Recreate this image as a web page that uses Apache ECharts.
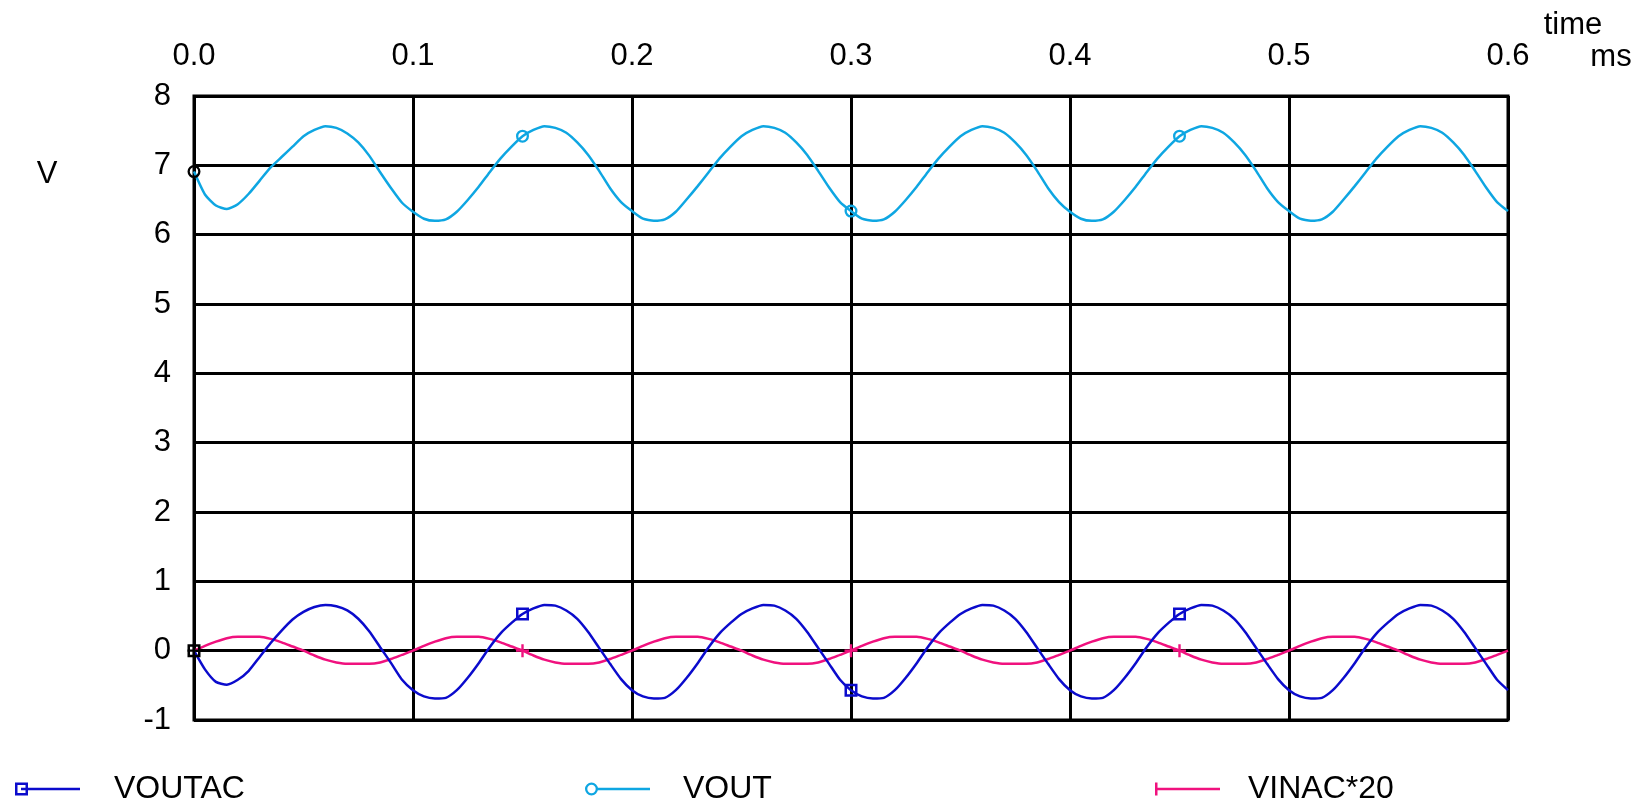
<!DOCTYPE html>
<html><head><meta charset="utf-8">
<script src="https://cdn.jsdelivr.net/npm/echarts@6/dist/echarts.min.js"></script>
<style>html,body{margin:0;padding:0;background:#fff}#c{width:1646px;height:805px}</style>
</head><body><div id="c"></div>
<script>
// sample times (ms)
const timeMs = [
0,0.005,0.01,0.015,0.02,0.025,0.03,0.035,0.04,0.045,0.05,0.055,0.06,0.065,0.07,0.075,0.08,0.085,0.09,0.095,
0.1,0.105,0.11,0.115,0.12,0.125,0.13,0.135,0.14,0.145,0.15,0.155,0.16,0.165,0.17,0.175,0.18,0.185,0.19,0.195,
0.2,0.205,0.21,0.215,0.22,0.225,0.23,0.235,0.24,0.245,0.25,0.255,0.26,0.265,0.27,0.275,0.28,0.285,0.29,0.295,
0.3,0.305,0.31,0.315,0.32,0.325,0.33,0.335,0.34,0.345,0.35,0.355,0.36,0.365,0.37,0.375,0.38,0.385,0.39,0.395,
0.4,0.405,0.41,0.415,0.42,0.425,0.43,0.435,0.44,0.445,0.45,0.455,0.46,0.465,0.47,0.475,0.48,0.485,0.49,0.495,
0.5,0.505,0.51,0.515,0.52,0.525,0.53,0.535,0.54,0.545,0.55,0.555,0.56,0.565,0.57,0.575,0.58,0.585,0.59,0.595,
0.6];

const voutac = [
0.00,-0.27,-0.45,-0.49,-0.42,-0.29,-0.09,0.11,0.29,0.45,0.56,0.63,0.66,0.64,0.58,0.46,0.28,0.05,-0.18,-0.42,
-0.57,-0.66,-0.69,-0.68,-0.57,-0.39,-0.18,0.05,0.25,0.40,0.53,0.61,0.66,0.65,0.58,0.46,0.27,0.04,-0.19,-0.41,
-0.57,-0.66,-0.69,-0.68,-0.57,-0.39,-0.18,0.05,0.25,0.40,0.53,0.61,0.66,0.65,0.58,0.46,0.27,0.04,-0.19,-0.42,
-0.57,-0.66,-0.69,-0.68,-0.57,-0.39,-0.18,0.05,0.25,0.40,0.53,0.61,0.66,0.65,0.58,0.46,0.27,0.04,-0.19,-0.41,
-0.57,-0.66,-0.69,-0.68,-0.57,-0.39,-0.18,0.05,0.25,0.40,0.53,0.61,0.66,0.65,0.58,0.46,0.27,0.04,-0.19,-0.41,
-0.57,-0.66,-0.69,-0.68,-0.57,-0.39,-0.18,0.05,0.25,0.40,0.53,0.61,0.66,0.65,0.58,0.46,0.27,0.04,-0.19,-0.42,
-0.57];

const vout = [
6.91,6.58,6.42,6.37,6.44,6.59,6.78,6.97,7.12,7.27,7.42,7.51,7.565,7.54,7.46,7.33,7.14,6.90,6.67,6.46,
6.33,6.23,6.20,6.22,6.33,6.50,6.69,6.90,7.10,7.27,7.42,7.51,7.565,7.54,7.47,7.33,7.15,6.92,6.67,6.47,
6.34,6.23,6.20,6.22,6.33,6.51,6.70,6.90,7.10,7.27,7.42,7.51,7.565,7.54,7.47,7.33,7.15,6.92,6.68,6.47,
6.34,6.23,6.20,6.22,6.33,6.50,6.69,6.90,7.10,7.27,7.42,7.51,7.565,7.54,7.47,7.33,7.15,6.92,6.67,6.47,
6.33,6.23,6.20,6.22,6.33,6.50,6.69,6.90,7.10,7.27,7.42,7.51,7.565,7.54,7.47,7.33,7.15,6.92,6.67,6.47,
6.34,6.23,6.20,6.22,6.33,6.51,6.70,6.90,7.10,7.27,7.42,7.51,7.565,7.54,7.47,7.33,7.15,6.92,6.68,6.47,
6.34];

const vinac20 = [
0.00,0.07,0.13,0.18,0.20,0.20,0.20,0.17,0.12,0.06,0.00,-0.07,-0.13,-0.17,-0.19,-0.19,-0.19,-0.17,-0.12,-0.06,
0.00,0.07,0.13,0.18,0.20,0.20,0.20,0.17,0.12,0.06,0.00,-0.07,-0.13,-0.17,-0.19,-0.19,-0.19,-0.17,-0.12,-0.06,
0.00,0.07,0.13,0.18,0.20,0.20,0.20,0.17,0.12,0.06,0.00,-0.07,-0.13,-0.17,-0.19,-0.19,-0.19,-0.17,-0.12,-0.06,
0.00,0.07,0.13,0.18,0.20,0.20,0.20,0.17,0.12,0.06,0.00,-0.07,-0.13,-0.17,-0.19,-0.19,-0.19,-0.17,-0.12,-0.06,
0.00,0.07,0.13,0.18,0.20,0.20,0.20,0.17,0.12,0.06,0.00,-0.07,-0.13,-0.17,-0.19,-0.19,-0.19,-0.17,-0.12,-0.06,
0.00,0.07,0.13,0.18,0.20,0.20,0.20,0.17,0.12,0.06,0.00,-0.07,-0.13,-0.17,-0.19,-0.19,-0.19,-0.17,-0.12,-0.06,
0.00];

const seriesNames = ['VOUTAC', 'VOUT', 'VINAC*20'];
const markerIdx = [0, 30, 60, 90];

const FONT = "'Liberation Sans', Arial, Helvetica, sans-serif";
const C_VOUTAC = '#0B0BCC', C_VOUT = '#0EA6E2', C_VINAC = '#F0117E';

const SYM_SQUARE = 'path://M0,0H13V13H0Z M2.5,2.5V10.5H10.5V2.5Z';
const SYM_CIRCLE = 'path://M6.5,0A6.5,6.5,0,1,1,6.5,13A6.5,6.5,0,1,1,6.5,0Z M6.5,2.3A4.2,4.2,0,1,0,6.5,10.7A4.2,4.2,0,1,0,6.5,2.3Z';
const SYM_PLUS = 'path://M5.3,0H7.7V13H5.3Z M0,5.3H13V7.7H0Z';

const ICON_SQUARE = 'path://M0,0H13V13H0Z M2.5,2.5V10.5H10.5V2.5Z M6,5.3H65V7.8H6Z';
const ICON_CIRCLE = 'path://M6.5,0A6.5,6.5,0,1,1,6.5,13A6.5,6.5,0,1,1,6.5,0Z M6.5,2.3A4.2,4.2,0,1,0,6.5,10.7A4.2,4.2,0,1,0,6.5,2.3Z M12,5.3H65V7.8H12Z';
const ICON_PLUS = 'path://M0,0H2.5V13H0Z M0,5.3H65V7.8H0Z';

function build(vals, sym, color) {
  return timeMs.map((t, i) => {
    const p = [t, vals[i]];
    if (markerIdx.indexOf(i) >= 0) {
      return { value: p, symbol: sym, symbolSize: 13, itemStyle: { color: i === 0 ? '#000' : color } };
    }
    return p;
  });
}

function lineSeries(name, vals, sym, color) {
  return {
    name: name, type: 'line', data: build(vals, sym, color),
    symbol: 'none', showSymbol: true, symbolKeepAspect: true,
    lineStyle: { color: color, width: 2.5 },
    itemStyle: { color: color },
    smooth: 0.2, animation: false, z: 3
  };
}

function legendFor(name, icon, left, padLeft) {
  return {
    data: [name], left: left, top: 773, padding: 0, icon: icon,
    itemWidth: 65, itemHeight: 13, selectedMode: false,
    itemStyle: { borderWidth: 0 },
    textStyle: { fontSize: 32, color: '#000', fontFamily: FONT, padding: [0, 0, 0, padLeft] }
  };
}

const chart = echarts.init(document.getElementById('c'), null, { renderer: 'canvas' });
chart.setOption({
  backgroundColor: '#fff',
  animation: false,
  grid: { left: 194, right: 138, top: 96, bottom: 85, show: true, borderColor: '#000', borderWidth: 3, backgroundColor: 'transparent' },
  xAxis: {
    type: 'value', position: 'top', min: 0, max: 0.6, interval: 0.1,
    axisLine: { show: false }, axisTick: { show: false },
    axisLabel: { color: '#000', fontSize: 31, fontFamily: FONT, margin: 24, formatter: v => v.toFixed(1) },
    splitLine: { show: true, lineStyle: { color: '#000', width: 3 } }
  },
  yAxis: {
    type: 'value', min: -1, max: 8, interval: 1,
    axisLine: { show: false }, axisTick: { show: false },
    axisLabel: { color: '#000', fontSize: 31, fontFamily: FONT, margin: 23 },
    splitLine: { show: true, lineStyle: { color: '#000', width: 3 } }
  },
  legend: [
    legendFor('VOUTAC', ICON_SQUARE, 15, 29),
    legendFor('VOUT', ICON_CIRCLE, 585, 28),
    legendFor('VINAC*20', ICON_PLUS, 1155, 23)
  ],
  graphic: [
    { type: 'text', x: 47, y: 174, style: { text: 'V', fontSize: 31, fontFamily: FONT, fill: '#000', align: 'center', verticalAlign: 'middle' } },
    { type: 'text', x: 1573, y: 25, style: { text: 'time', fontSize: 31, fontFamily: FONT, fill: '#000', align: 'center', verticalAlign: 'middle' } },
    { type: 'text', x: 1611, y: 57, style: { text: 'ms', fontSize: 31, fontFamily: FONT, fill: '#000', align: 'center', verticalAlign: 'middle' } }
  ],
  series: [
    lineSeries('VINAC*20', vinac20, SYM_PLUS, C_VINAC),
    lineSeries('VOUTAC', voutac, SYM_SQUARE, C_VOUTAC),
    lineSeries('VOUT', vout, SYM_CIRCLE, C_VOUT)
  ]
});
</script></body></html>
